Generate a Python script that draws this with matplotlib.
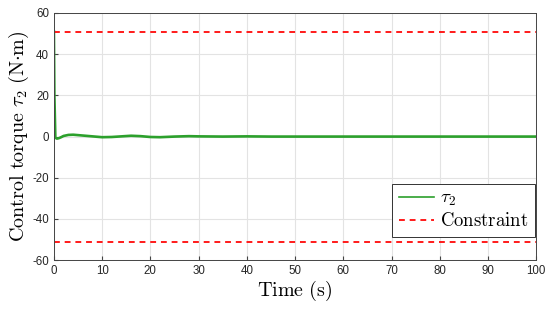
import matplotlib
matplotlib.use('Agg')
import matplotlib.pyplot as plt

plt.rcParams['mathtext.fontset'] = 'cm'
plt.rcParams['font.family'] = ['Liberation Sans', 'DejaVu Sans']
plt.rcParams['axes.unicode_minus'] = False

# Data
time_s = [0, 0.1, 0.3, 0.6, 1.0, 1.5, 2, 3, 4, 5, 6, 8, 10, 12, 14, 16, 18, 20,
          22, 25, 28, 30, 35, 40, 45, 50, 60, 70, 80, 90, 100]
tau2 = [51, 20, -0.5, -1.0, -0.8, -0.3, 0.3, 0.8, 0.9, 0.7, 0.5, 0.1, -0.3, -0.2,
        0.1, 0.4, 0.2, -0.2, -0.3, 0.0, 0.2, 0.1, 0.0, 0.1, 0.0, 0.0, 0.0, 0.0,
        0.0, 0.0, 0.0]
constraint_val = 51
x_ticks = list(range(0, 101, 10))
y_ticks = list(range(-60, 61, 20))

fig, ax = plt.subplots(figsize=(5.5, 3.09), dpi=100)
fig.subplots_adjust(left=0.098, right=0.975, bottom=0.158, top=0.958)

ax.plot(time_s, tau2, color='#2ca02c', lw=1.9, label=r'$\tau_2$')
ax.plot([0, 100], [constraint_val, constraint_val], color='#ff1a1a', lw=1.4,
        ls=(0, (3, 2.5)), label=r'$\mathrm{Constraint}$')
ax.plot([0, 100], [-constraint_val, -constraint_val], color='#ff1a1a', lw=1.4,
        ls=(0, (3, 2.5)))

ax.set_xlim(0, 100)
ax.set_ylim(-60, 60)
ax.set_xticks(x_ticks)
ax.set_yticks(y_ticks)
ax.tick_params(labelsize=8.3, direction='in', length=3, color='#444444', labelcolor='#262626')
ax.grid(True, color='#e3e3e3', lw=0.8)
for s in ax.spines.values():
    s.set_color('#444444')
    s.set_linewidth(0.7)

ax.set_xlabel(r'$\mathrm{Time\ (s)}$', fontsize=14.5, labelpad=1)
ax.set_ylabel(r'$\mathrm{Control\ torque}\ \tau_2\ \mathrm{(N{\cdot}m)}$', fontsize=14.5, labelpad=1)

leg = ax.legend(loc='lower right', bbox_to_anchor=(0.997, 0.095), fontsize=13.5,
                fancybox=False, framealpha=1, edgecolor='#333333', borderaxespad=0,
                handlelength=1.9, borderpad=0.35, labelspacing=0.2, handletextpad=0.3)
leg.get_frame().set_linewidth(0.7)
leg.get_lines()[0].set_linewidth(1.2)

fig.savefig('out.png', dpi=100)
